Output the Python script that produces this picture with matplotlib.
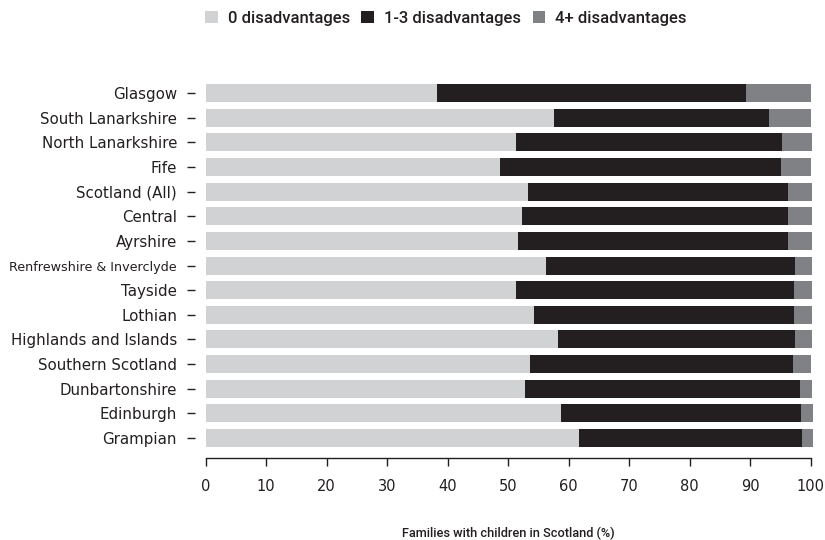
import matplotlib.pyplot as plt
import numpy as np

plt.rcParams['font.family'] = ['DejaVu Sans']

regions = ["Glasgow", "South Lanarkshire", "North Lanarkshire", "Fife", "Scotland (All)",
           "Central", "Ayrshire", "Renfrewshire & Inverclyde", "Tayside", "Lothian",
           "Highlands and Islands", "Southern Scotland", "Dunbartonshire", "Edinburgh", "Grampian"]
zero_dis = [38.2, 57.6, 51.3, 48.7, 53.3, 52.3, 51.7, 56.3, 51.3, 54.3, 58.3, 53.6, 52.8, 58.8, 61.8]
one_three_dis = [51.2, 35.6, 44.0, 46.5, 43.0, 44.0, 44.5, 41.1, 46.0, 43.0, 39.1, 43.5, 45.5, 39.6, 36.8]
four_plus_dis = [10.6, 6.9, 4.9, 4.8, 4.0, 4.0, 4.1, 2.9, 3.0, 3.0, 2.9, 2.9, 1.9, 2.0, 1.8]
xticks = list(range(0, 101, 10))

c_light = "#d1d2d4"
c_dark = "#231f20"
c_grey = "#808184"
txt = "#231f20"

fig = plt.figure(figsize=(8.25, 5.4), dpi=100)
ax = fig.add_axes([205.5 / 825, 82 / 540, (810.5 - 205.5) / 825, (458 - 80.7) / 540])

y = np.arange(len(regions))[::-1]
a = np.array(zero_dis)
b = np.array(one_three_dis)
c = np.array(four_plus_dis)
h = 0.73
ax.barh(y, a, height=h, color=c_light, label="0 disadvantages", clip_on=False)
ax.barh(y, b, left=a, height=h, color=c_dark, label="1-3 disadvantages", clip_on=False)
ax.barh(y, c, left=a + b, height=h, color=c_grey, label="4+ disadvantages", clip_on=False)

ax.set_xlim(0, 100)
ax.set_ylim(-0.81, 14.5)

for s in ["top", "right"]:
    ax.spines[s].set_visible(False)
ax.spines["left"].set_position(("outward", 7.5))
ax.spines["left"].set_visible(False)
ax.spines["bottom"].set_color(txt)
ax.spines["bottom"].set_linewidth(1)

ax.tick_params(axis="y", length=6, width=1, color=txt, pad=7, labelsize=10.8, labelcolor=txt)
ax.tick_params(axis="x", length=6, width=1, color=txt, direction="out", pad=9,
               labelsize=10.5, labelcolor=txt)

ax.set_yticks(y)
ax.set_yticklabels(regions)
ax.set_xticks(xticks)
ax.set_xticklabels([str(t) for t in xticks])
# the long label is set smaller in the original
for lab in ax.get_yticklabels():
    if lab.get_text().startswith("Renfrewshire"):
        lab.set_fontsize(9.2)

ax.set_xlabel("Families with children in Scotland (%)", fontsize=9.2, fontweight="medium",
              family="Roboto", color=txt, labelpad=23.5)

fig.legend(loc="center left", bbox_to_anchor=(190 / 825, 0.966), ncol=3, frameon=False,
           handlelength=0.75, handleheight=0.75, handletextpad=0.6, columnspacing=0.7,
           prop={"size": 12, "weight": "medium", "family": "Roboto"}, labelcolor=txt)

fig.savefig("out.png", dpi=100)
